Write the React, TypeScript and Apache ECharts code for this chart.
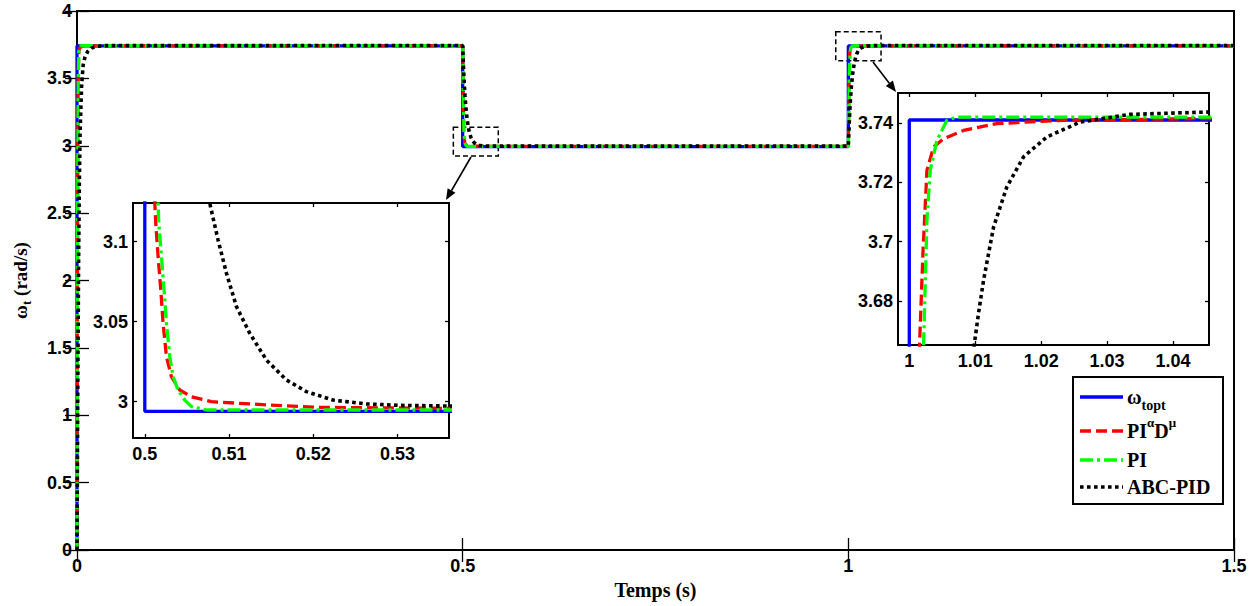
import { useEffect, useRef } from 'react';
import * as echarts from 'echarts';

type P = [number, number];

// ---------- DATA ----------
const SERIES_NAMES = ['ω_topt', 'PIαDμ', 'PI', 'ABC-PID'];

const omegaTopt: P[] = [
  [0, 0], [0, 3.741], [0.5, 3.741], [0.5, 2.994], [1.0, 2.994], [1.0, 3.741], [1.5, 3.741],
];

const piAlphaDMu: P[] = [
  [0, 0], [0.0008, 2.5], [0.0015, 3.5], [0.0022, 3.68], [0.003, 3.72], [0.0045, 3.733], [0.008, 3.7375],
  [0.013, 3.74], [0.023, 3.741], [0.045, 3.7415],
  [0.5, 3.7415], [0.5004, 3.55], [0.5008, 3.3], [0.50119, 3.124], [0.5013, 3.1115], [0.50158, 3.0906],
  [0.5019, 3.0698], [0.50217, 3.049], [0.50257, 3.0281], [0.50316, 3.0156], [0.50415, 3.0073],
  [0.50554, 3.0031], [0.50791, 3.0], [0.51444, 2.998], [0.5204, 2.9965], [0.536, 2.9958],
  [1.0, 2.9958], [1.0006, 3.3], [1.0011, 3.55], [1.00156, 3.6653], [1.00207, 3.6961], [1.00268, 3.7241],
  [1.00369, 3.7319], [1.0052, 3.7347], [1.00823, 3.7375], [1.01329, 3.7398], [1.02338, 3.7409],
  [1.04545, 3.7415], [1.5, 3.7415],
];

const piCtrl: P[] = [
  [0, 0], [0.0008, 2.5], [0.0017, 3.5], [0.0024, 3.7], [0.0032, 3.734], [0.0045, 3.741], [0.006, 3.742],
  [0.5, 3.742], [0.5005, 3.6], [0.501, 3.3], [0.50158, 3.124], [0.50166, 3.1115], [0.50198, 3.0906],
  [0.50229, 3.0698], [0.50257, 3.049], [0.50297, 3.0281], [0.50336, 3.0156], [0.50395, 3.0073],
  [0.50474, 3.001], [0.50554, 2.9969], [0.50732, 2.9948],
  [1.0, 2.9948], [1.0008, 3.3], [1.0015, 3.55], [1.00217, 3.6653], [1.00268, 3.7073], [1.00318, 3.7241],
  [1.0042, 3.7342], [1.00571, 3.7409], [1.00723, 3.742], [1.5, 3.742],
];

const abcPid: P[] = [
  [0, 0], [0.001, 1.2], [0.002, 2.1], [0.003, 2.7], [0.004, 3.1], [0.006, 3.45], [0.008, 3.6],
  [0.0104, 3.66], [0.014, 3.7], [0.019, 3.725], [0.026, 3.738], [0.035, 3.743],
  [0.5, 3.7438], [0.5005, 3.664], [0.501, 3.592], [0.502, 3.471], [0.503, 3.375], [0.504, 3.298],
  [0.505, 3.237], [0.506, 3.188], [0.507, 3.149], [0.50771, 3.124], [0.5087, 3.101], [0.50969, 3.0803],
  [0.51088, 3.0594], [0.51246, 3.0427], [0.51444, 3.026], [0.5168, 3.0136], [0.51918, 3.0063],
  [0.52234, 3.001], [0.5263, 2.9986], [0.53025, 2.9977], [0.5361, 2.9973],
  [1.0, 2.9973], [1.001, 3.149], [1.002, 3.27], [1.003, 3.366], [1.004, 3.443], [1.006, 3.552],
  [1.008, 3.623], [1.00985, 3.6653], [1.0105, 3.6759], [1.01127, 3.6871], [1.01279, 3.705],
  [1.0148, 3.7185], [1.01733, 3.7286], [1.02086, 3.7353], [1.02591, 3.7403], [1.03348, 3.7429],
  [1.04545, 3.7437], [1.5, 3.7438],
];

const mainXRange = [0, 1.5];
const mainYRange = [0, 4];
const mainXTicks = [0, 0.5, 1, 1.5];
const mainYTicks = [0, 0.5, 1, 1.5, 2, 2.5, 3, 3.5, 4];

const zoom1XRange = [0.4986, 0.5361];
const zoom1YRange = [2.9773, 3.1242];
const zoom1XTicks = [0.5, 0.51, 0.52, 0.53];
const zoom1YTicks = [3, 3.05, 3.1];

const zoom2XRange = [0.99829, 1.04545];
const zoom2YRange = [3.6652, 3.7501];
const zoom2XTicks = [1, 1.01, 1.02, 1.03, 1.04];
const zoom2YTicks = [3.68, 3.7, 3.72, 3.74];

// zoomed regions marked on the main axes: [t0, y0, t1, y1]
const zoomBoxes = [
  [0.4879, 3.137, 0.5462, 2.924],
  [0.9837, 3.846, 1.0424, 3.631],
];

// ---------- STYLES ----------
const COLORS = ['#0000ff', '#ff0000', '#00ff00', '#000000'];
const DASHES: any[] = ['solid', [11, 5], [13, 4, 3, 4], [3.6, 3.4]];
const WIDTHS = [3.3, 3.3, 3.3, 3.6];
const SANS = 'Liberation Sans, Arial, sans-serif';
const SERIF = 'Liberation Serif, Times New Roman, serif';

const tickFont = { fontFamily: SANS, fontWeight: 'bold', fontSize: 18, color: '#000' };

function axis(grid: number, pos: string, range: number[], ticks: number[], labels: boolean, tickLen: number, extra: any = {}) {
  const isX = pos === 'bottom' || pos === 'top';
  return {
    type: 'value',
    gridIndex: grid,
    position: pos,
    min: range[0],
    max: range[1],
    axisLine: { show: false },
    axisTick: { show: true, inside: true, length: tickLen, lineStyle: { color: '#000', width: 1.3 }, customValues: ticks },
    axisLabel: labels
      ? { ...tickFont, margin: isX ? 7 : 5, customValues: ticks, formatter: (v: number) => String(v) }
      : { show: false },
    splitLine: { show: false },
    ...extra,
  };
}

function arrow(x1: number, y1: number, x2: number, y2: number) {
  const dx = x2 - x1, dy = y2 - y1;
  const L = Math.hypot(dx, dy);
  const ux = dx / L, uy = dy / L;
  const hl = 11, hw = 4.5;
  const bx = x2 - ux * hl, by = y2 - uy * hl;
  return [
    { type: 'line', z: 50, shape: { x1, y1, x2: bx, y2: by }, style: { stroke: '#000', lineWidth: 1.6 } },
    {
      type: 'polygon', z: 50,
      shape: { points: [[x2, y2], [bx - uy * hw, by + ux * hw], [bx + uy * hw, by - ux * hw]] },
      style: { fill: '#000' },
    },
  ];
}

const legendRich = {
  a: { fontFamily: SERIF, fontWeight: 'bold', fontSize: 20, color: '#000', lineHeight: 30 },
  s: { fontFamily: SERIF, fontWeight: 'bold', fontSize: 14, color: '#000', verticalAlign: 'bottom' },
  p: { fontFamily: SERIF, fontWeight: 'bold', fontSize: 13, color: '#000', verticalAlign: 'top' },
};
const LEGEND_TEXTS = ['{a|ω}{s|topt}', '{a|PI}{p|α}{a|D}{p|μ}', '{a|PI}', '{a|ABC-PID}'];

export default function App() {
  const ref = useRef<HTMLDivElement>(null);
  useEffect(() => {
    if (!ref.current) return;
    const chart = echarts.init(ref.current, undefined, { renderer: 'svg' });
    const seriesData = [omegaTopt, piAlphaDMu, piCtrl, abcPid];

    const grids = [
      { left: 77, top: 11, width: 1157, height: 539 },
      { left: 133, top: 203, width: 316, height: 235 },
      { left: 898, top: 93, width: 311, height: 252 },
    ].map((g) => ({ ...g, show: true, borderColor: '#000', borderWidth: 2, backgroundColor: '#fff', containLabel: false }));

    const xAxes = [
      axis(0, 'bottom', mainXRange, mainXTicks, true, 12, {
        name: 'Temps (s)', nameLocation: 'middle', nameGap: 30,
        nameTextStyle: { fontFamily: SERIF, fontWeight: 'bold', fontSize: 20, color: '#000' },
      }),
      axis(0, 'top', mainXRange, mainXTicks, false, 12),
      axis(1, 'bottom', zoom1XRange, zoom1XTicks, true, 4),
      axis(1, 'top', zoom1XRange, zoom1XTicks, false, 4),
      axis(2, 'bottom', zoom2XRange, zoom2XTicks, true, 4),
      axis(2, 'top', zoom2XRange, zoom2XTicks, false, 4),
    ];
    const yAxes = [
      axis(0, 'left', mainYRange, mainYTicks, true, 12, {
        name: '{a|ω}{s|t}{a| (rad/s)}', nameLocation: 'middle', nameGap: 44, nameRotate: 90,
        nameTextStyle: {
          rich: {
            a: { fontFamily: SERIF, fontWeight: 'bold', fontSize: 19, color: '#000', lineHeight: 26 },
            s: { fontFamily: SERIF, fontWeight: 'bold', fontSize: 13, color: '#000', verticalAlign: 'bottom' },
          },
        },
      }),
      axis(0, 'right', mainYRange, mainYTicks, false, 12),
      axis(1, 'left', zoom1YRange, zoom1YTicks, true, 4),
      axis(1, 'right', zoom1YRange, zoom1YTicks, false, 4),
      axis(2, 'left', zoom2YRange, zoom2YTicks, true, 4),
      axis(2, 'right', zoom2YRange, zoom2YTicks, false, 4),
    ];

    const series: any[] = [];
    for (let g = 0; g < 3; g++) {
      for (let i = 0; i < 4; i++) {
        const s: any = {
          type: 'line',
          name: SERIES_NAMES[i],
          xAxisIndex: g * 2,
          yAxisIndex: g * 2,
          data: seriesData[i],
          symbol: 'none',
          showSymbol: false,
          clip: true,
          silent: true,
          z: 2 + g,
          lineStyle: { color: COLORS[i], width: WIDTHS[i], type: DASHES[i], cap: 'butt' },
          itemStyle: { color: COLORS[i] },
          emphasis: { disabled: true },
        };
        if (g === 0 && i === 3) {
          s.markArea = {
            silent: true,
            label: { show: false },
            itemStyle: { color: 'rgba(0,0,0,0)', borderColor: '#000', borderWidth: 1.5, borderType: [5, 3] },
            data: zoomBoxes.map((b) => [{ coord: [b[0], b[1]] }, { coord: [b[2], b[3]] }]),
          };
        }
        series.push(s);
      }
    }

    const legendX = 1073, legendY = 377, legendW = 150, legendH = 127;
    const rowY = [397, 431, 460, 487];
    const legendGraphics: any[] = [
      { type: 'rect', z: 60, shape: { x: legendX, y: legendY, width: legendW, height: legendH }, style: { fill: '#fff', stroke: '#000', lineWidth: 2 } },
    ];
    rowY.forEach((y, i) => {
      legendGraphics.push({
        type: 'line', z: 61,
        shape: { x1: 1080, y1: y, x2: 1123, y2: y },
        style: { stroke: COLORS[i], lineWidth: WIDTHS[i], lineDash: DASHES[i] === 'solid' ? null : DASHES[i] },
      });
      legendGraphics.push({
        type: 'text', z: 61, x: 1127, y: y,
        style: { text: LEGEND_TEXTS[i], rich: legendRich, textAlign: 'left', textVerticalAlign: 'middle' },
      });
    });

    chart.setOption({
      animation: false,
      backgroundColor: '#fff',
      grid: grids,
      xAxis: xAxes,
      yAxis: yAxes,
      series,
      graphic: [...arrow(471, 157, 446, 200), ...arrow(873, 62, 896, 92), ...legendGraphics],
    });
    return () => chart.dispose();
  }, []);
  return <div ref={ref} style={{ position: 'absolute', left: 0, top: 0, width: 1260, height: 606 }} />;
}
